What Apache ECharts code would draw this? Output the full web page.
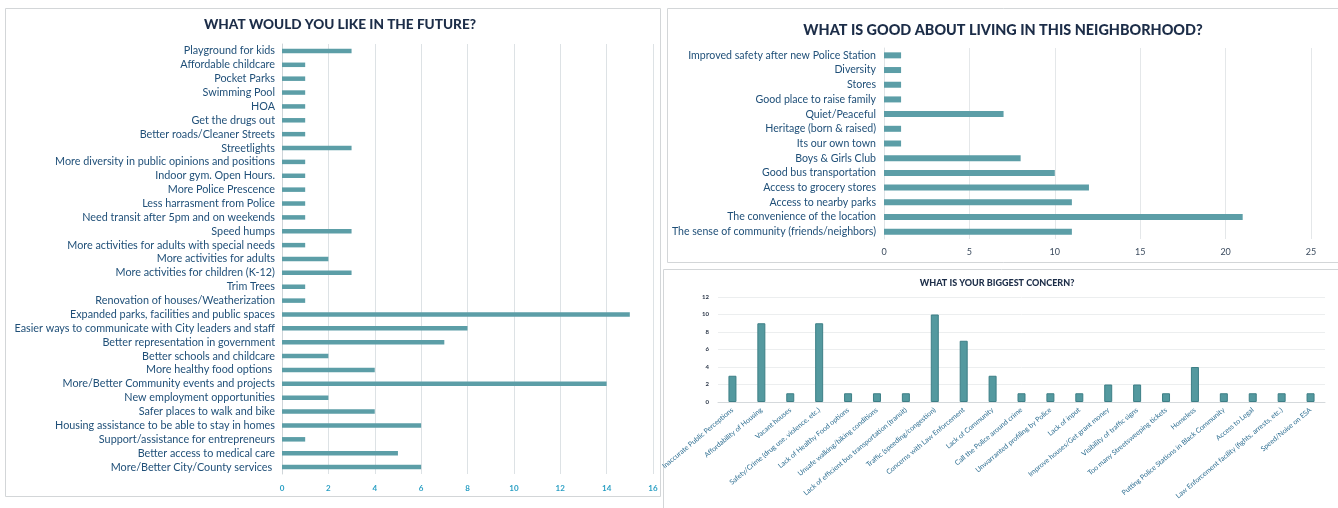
<!DOCTYPE html>
<html>
<head>
<meta charset="utf-8">
<script src="https://cdn.jsdelivr.net/npm/echarts@6/dist/echarts.min.js"></script>
<style>
    html, body { margin: 0; padding: 0; background: #fff; }
    #main { width: 1338px; height: 508px; }
</style>
</head>
<body>
<div id="main"></div>
<script>
// what would you like in the future
var futureCats = [
    'Playground for kids', 'Affordable childcare', 'Pocket Parks', 'Swimming Pool', 'HOA',
    'Get the drugs out', 'Better roads/Cleaner Streets', 'Streetlights',
    'More diversity in public opinions and positions', 'Indoor gym. Open Hours.',
    'More Police Prescence', 'Less harrasment from Police', 'Need transit after 5pm and on weekends',
    'Speed humps', 'More activities for adults with special needs', 'More activities for adults',
    'More activities for children (K-12)', 'Trim Trees', 'Renovation of houses/Weatherization',
    'Expanded parks, facilities and public spaces', 'Easier ways to communicate with City leaders and staff',
    'Better representation in government', 'Better schools and childcare', 'More healthy food options ',
    'More/Better Community events and projects', 'New employment opportunities',
    'Safer places to walk and bike', 'Housing assistance to be able to stay in homes',
    'Support/assistance for entrepreneurs', 'Better access to medical care', 'More/Better City/County services '
];
var futureVals = [3, 1, 1, 1, 1, 1, 1, 3, 1, 1, 1, 1, 1, 3, 1, 2, 3, 1, 1, 15, 8, 7, 2, 4, 14, 2, 4, 6, 1, 5, 6];
var futureTicks = [0, 2, 4, 6, 8, 10, 12, 14, 16];

// what is good about living here
var goodCats = [
    'Improved safety after new Police Station', 'Diversity', 'Stores', 'Good place to raise family',
    'Quiet/Peaceful', 'Heritage (born & raised)', 'Its our own town', 'Boys & Girls Club',
    'Good bus transportation', 'Access to grocery stores', 'Access to nearby parks',
    'The convenience of the location', 'The sense of community (friends/neighbors)'
];
var goodVals = [1, 1, 1, 1, 7, 1, 1, 8, 10, 12, 11, 21, 11];
var goodTicks = [0, 5, 10, 15, 20, 25];

// biggest concern
var concernCats = [
    'Inaccurate Public Perceptions', 'Affordability of Housing', 'Vacant houses',
    'Safety/Crime (drug use, violence, etc.)', 'Lack of Healthy Food options',
    'Unsafe walking/biking conditions', 'Lack of efficient bus transportation (transit)',
    'Traffic (speeding/congestion)', 'Concerns with Law Enforcement', 'Lack of Community',
    'Call the Police around crime', 'Unwarranted profiling by Police', 'Lack of input',
    'Improve houses/Get grant money', 'Visibility of traffic signs', 'Too many Streetsweeping tickets',
    'Homeless', 'Putting Police Stations in Black Community', 'Access to Legal',
    'Law Enforcement facility (fights, arrests, etc.)', 'Speed/Noise on ESA'
];
var concernVals = [3, 9, 1, 9, 1, 1, 1, 10, 7, 3, 1, 1, 1, 2, 2, 1, 4, 1, 1, 1, 1];
var concernTicks = [0, 2, 4, 6, 8, 10, 12];

var FONT = 'Lato, "Noto Sans", sans-serif';
var TITLE_COLOR = '#1c2d48';
var LABEL_COLOR = '#1f4f78';
var BAR_COLOR = '#5c9ea7';

var myChart = echarts.init(document.getElementById('main'));

function panel(x, y, w, h) {
    return {
        type: 'rect', silent: true, z: -10,
        shape: { x: x, y: y, width: w, height: h },
        style: { fill: null, stroke: '#d3d6d8', lineWidth: 1 }
    };
}
function heading(text, x, y, size) {
    return {
        type: 'text', silent: true,
        x: x, y: y,
        style: {
            text: text, fill: TITLE_COLOR, align: 'center', verticalAlign: 'middle',
            font: '900 ' + size + 'px ' + FONT
        }
    };
}

var option = {
    backgroundColor: '#fff',
    animation: false,
    graphic: [
        panel(5.5, 8.5, 655, 488),
        panel(667.5, 8.5, 680, 254),
        panel(663.5, 269.5, 690, 250),
        heading('WHAT WOULD YOU LIKE IN THE FUTURE?', 340, 25, 13.6),
        heading('WHAT IS GOOD ABOUT LIVING IN THIS NEIGHBORHOOD?', 1003, 30, 14.4),
        heading('WHAT IS YOUR BIGGEST CONCERN?', 997, 283, 9)
    ],
    grid: [
        { left: 282, top: 44, width: 371, height: 430 },
        { left: 884, top: 48, width: 427, height: 191 },
        { left: 718, top: 297, width: 607, height: 105 }
    ],
    xAxis: [
        {
            gridIndex: 0, type: 'value', min: futureTicks[0], max: futureTicks[futureTicks.length - 1], interval: 2,
            axisLine: { show: false }, axisTick: { show: false },
            splitLine: { lineStyle: { color: '#dde2e5' } },
            axisLabel: { color: '#2a9fc4', fontSize: 8, fontWeight: 'bold', fontFamily: FONT, margin: 10 }
        },
        {
            gridIndex: 1, type: 'value', min: goodTicks[0], max: goodTicks[goodTicks.length - 1], interval: 5,
            axisLine: { show: false }, axisTick: { show: false },
            splitLine: { lineStyle: { color: '#e4e7e9' } },
            axisLabel: { color: '#3b4b5e', fontSize: 9, fontFamily: FONT, margin: 9 }
        },
        {
            gridIndex: 2, type: 'category', data: concernCats,
            axisLine: { lineStyle: { color: '#d5d9dc' } }, axisTick: { show: false },
            axisLabel: { color: '#2f6f92', fontSize: 7, fontFamily: FONT, rotate: 40, interval: 0, margin: 7 }
        }
    ],
    yAxis: [
        {
            gridIndex: 0, type: 'category', data: futureCats, inverse: true,
            axisLine: { lineStyle: { color: '#cfd5d9' } }, axisTick: { show: false },
            axisLabel: { color: LABEL_COLOR, fontSize: 10.8, fontFamily: FONT, margin: 7, interval: 0 }
        },
        {
            gridIndex: 1, type: 'category', data: goodCats, inverse: true,
            axisLine: { lineStyle: { color: '#dfe3e6' } }, axisTick: { show: false },
            axisLabel: { color: LABEL_COLOR, fontSize: 10.6, fontFamily: FONT, margin: 8, interval: 0 }
        },
        {
            gridIndex: 2, type: 'value', min: concernTicks[0], max: concernTicks[concernTicks.length - 1], interval: 2,
            axisLine: { show: false }, axisTick: { show: false },
            splitLine: { lineStyle: { color: '#eceeef' } },
            axisLabel: { color: '#2b3648', fontSize: 6, fontWeight: 'bold', fontFamily: FONT, margin: 9 }
        }
    ],
    series: [
        {
            type: 'bar', xAxisIndex: 0, yAxisIndex: 0, data: futureVals, barWidth: 4.5,
            itemStyle: { color: BAR_COLOR }
        },
        {
            type: 'bar', xAxisIndex: 1, yAxisIndex: 1, data: goodVals, barWidth: 6,
            itemStyle: { color: BAR_COLOR }
        },
        {
            type: 'bar', xAxisIndex: 2, yAxisIndex: 2, data: concernVals, barWidth: 8,
            itemStyle: { color: '#54999f', borderColor: '#3d7f86', borderWidth: 1 }
        }
    ]
};

myChart.setOption(option);
</script>
</body>
</html>
